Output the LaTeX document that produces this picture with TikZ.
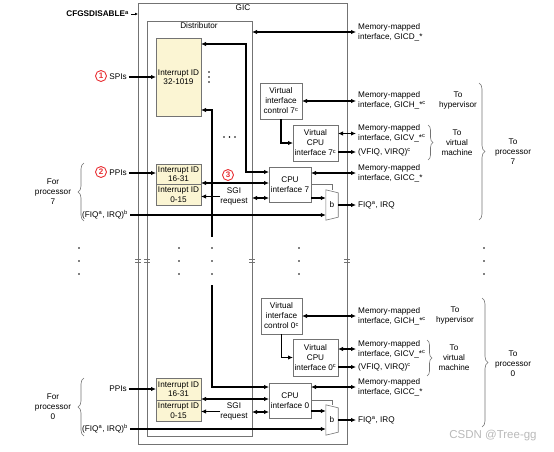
\documentclass[tikz,border=0pt]{standalone}
\usepackage{fontspec}
\setmainfont{Liberation Sans}
\usetikzlibrary{positioning, arrows.meta, calc, decorations.pathreplacing}
\definecolor{idyellow}{RGB}{251,245,211}
\definecolor{framegray}{RGB}{115,115,115}
\definecolor{numred}{RGB}{232,48,52}
\newcommand{\lblfont}{\fontsize{8.2}{10}\selectfont}

\begin{document}
\begin{tikzpicture}[x=1pt, y=-1pt,
		frame/.style={draw=framegray, line width=0.6pt, inner sep=0pt, outer sep=0pt},
		idbox/.style={draw=framegray, fill=idyellow, line width=0.6pt, minimum width=45pt, inner sep=0pt, outer sep=0pt, align=center, font=\fontsize{8.2}{9.5}\selectfont},
		ifbox/.style={draw=framegray, fill=white, line width=0.6pt, inner sep=0pt, outer sep=0pt, align=center, font=\lblfont},
		lbl/.style={inner sep=0pt, align=left, anchor=west, font=\lblfont},
		ctr/.style={inner sep=0pt, align=center, font=\lblfont},
		num/.style={circle, draw=numred, line width=0.9pt, text=numred, inner sep=0pt, minimum size=11pt, font=\fontsize{8}{8}\selectfont\bfseries},
		conn/.style={line width=1.2pt},
		brc/.style={draw=framegray, line width=0.6pt, decorate, decoration={brace, amplitude=5pt}},
		>={Latex[length=5pt,width=4.5pt]}
		]
		\useasboundingbox (0,0) rectangle (554,452);
		% GIC and distributor frames
		\node[frame, minimum width=209pt, minimum height=441pt] (gic) at (242.5,223.5) {};
		\node[frame, minimum width=105pt, minimum height=415pt] (dist) at (199.5,228.5) {};
		\node[ctr] (gicname) at (243,8) {GIC};
		\node[ctr] (distname) at (199,26) {Distributor};
		\node[ctr, font=\lblfont\bfseries, anchor=east] (cfg) at (129,14) {CFGSDISABLE\textsuperscript{a}};
		\draw[->, line width=0.6pt, >={Latex[length=3pt,width=3pt]}, shorten <=2pt] (cfg.east) -- (cfg.east -| gic.west);
		
		% interrupt ID blocks
		\node[idbox, minimum height=78pt] (spi) at (178.5,77) {Interrupt ID\\32-1019};
		\node[idbox, minimum height=20pt] (ppi7) at (178.5,174) {Interrupt ID\\16-31};
		\node[idbox, minimum height=21pt] (sgi7) at (178.5,194.5) {Interrupt ID\\0-15};
		\node[idbox, minimum height=22pt] (ppi0) at (178.5,389) {Interrupt ID\\16-31};
		\node[idbox, minimum height=21pt] (sgi0) at (178.5,410.5) {Interrupt ID\\0-15};
		
		% interfaces, processor 7
		\node[ifbox, minimum width=42pt, minimum height=36pt] (vic7) at (281,101) {Virtual\\interface\\control 7\textsuperscript{c}};
		\node[ifbox, minimum width=45pt, minimum height=36pt] (vcpu7) at (315.5,143) {Virtual\\CPU\\interface 7\textsuperscript{c}};
		\node[ifbox, minimum width=42pt, minimum height=35pt] (cpu7) at (290,184.5) {CPU\\interface 7};
		\node[inner sep=0pt, minimum width=12pt, minimum height=30pt, font=\lblfont] (mux7) at (332,205) {b};
		\draw[frame] (mux7.north west) -- ([yshift=-3pt]mux7.north east) -- ([yshift=3pt]mux7.south east) -- (mux7.south west) -- cycle;
		
		% interfaces, processor 0
		\node[ifbox, minimum width=41pt, minimum height=36pt] (vic0) at (281.5,316) {Virtual\\interface\\control 0\textsuperscript{c}};
		\node[ifbox, minimum width=45pt, minimum height=37pt] (vcpu0) at (315.5,357.5) {Virtual\\CPU\\interface 0\textsuperscript{c}};
		\node[ifbox, minimum width=42pt, minimum height=35pt] (cpu0) at (290,400.5) {CPU\\interface 0};
		\node[inner sep=0pt, minimum width=12pt, minimum height=30pt, font=\lblfont] (mux0) at (332,420) {b};
		\draw[frame] (mux0.north west) -- ([yshift=-3pt]mux0.north east) -- ([yshift=3pt]mux0.south east) -- (mux0.south west) -- cycle;
		
		% right hand labels
		\node[lbl] (gicd) at (358,32) {Memory-mapped\\interface, GICD\_*};
		\node[lbl] (gich7) at (358,100) {Memory-mapped\\interface, GICH\_*\textsuperscript{c}};
		\node[lbl] (gicv7) at (358,133.5) {Memory-mapped\\interface, GICV\_*\textsuperscript{c}};
		\node[lbl] (vfiq7) at (358,152) {(VFIQ, VIRQ)\textsuperscript{c}};
		\node[lbl] (gicc7) at (358,173) {Memory-mapped\\interface, GICC\_*};
		\node[lbl] (fiqout7) at (358,205) {FIQ\textsuperscript{a}, IRQ};
		\node[lbl] (gich0) at (358,316) {Memory-mapped\\interface, GICH\_*\textsuperscript{c}};
		\node[lbl] (gicv0) at (358,349) {Memory-mapped\\interface, GICV\_*\textsuperscript{c}};
		\node[lbl] (vfiq0) at (358,367) {(VFIQ, VIRQ)\textsuperscript{c}};
		\node[lbl] (gicc0) at (358,387) {Memory-mapped\\interface, GICC\_*};
		\node[lbl] (fiqout0) at (358,420) {FIQ\textsuperscript{a}, IRQ};
		
		\node[ctr] (hyp7) at (458,101) {To\\hypervisor};
		\node[ctr] (vm7) at (457,143) {To\\virtual\\machine};
		\node[ctr] (proc7) at (513,152) {To\\processor\\7};
		\node[ctr] (hyp0) at (455,316) {To\\hypervisor};
		\node[ctr] (vm0) at (454,358) {To\\virtual\\machine};
		\node[ctr] (proc0) at (513,364) {To\\processor\\0};
		\draw[brc] (428,125) -- (428,160);
		\draw[brc, decoration={amplitude=6pt}] (479,83) -- (479,220);
		\draw[brc] (427,340) -- (427,376);
		\draw[brc, decoration={amplitude=6pt}] (482,298) -- (482,427);
		
		% left hand labels
		\node[ctr] (spis) at (118,77) {SPIs};
		\node[num] (num1) at (101,76) {1};
		\node[ctr] (ppis7) at (118,173) {PPIs};
		\node[num] (num2) at (101,172) {2};
		\node[ctr] (fiq7) at (105,215) {(FIQ\textsuperscript{a}, IRQ)\textsuperscript{b}};
		\node[ctr] (for7) at (53,192) {For\\processor\\7};
		\draw[brc, decoration={amplitude=6pt}] (84,221) -- (84,163);
		\node[ctr] (ppis0) at (118,389) {PPIs};
		\node[ctr] (fiq0) at (105,429) {(FIQ\textsuperscript{a}, IRQ)\textsuperscript{b}};
		\node[ctr] (for0) at (53,407) {For\\processor\\0};
		\draw[brc, decoration={amplitude=6pt}] (84,436) -- (84,378);
		\node[num] (num3) at (228,175) {3};
		\node[ctr] (sgi7t) at (234,196.5) {SGI\\request};
		\node[ctr] (sgi0t) at (234,411.5) {SGI\\request};
		
		% connections, processor 7
		\draw[conn,<->, shorten >=2pt] (gicd.west -| dist.east) -- (gicd.west);
		\draw[conn,->, shorten <=2pt] (spis.east) -- (spi.west);
		\draw[conn,<->] ([yshift=-6pt]spi.north east) -- (246,44) |- ([yshift=-5pt]cpu7.north west);
		\draw[conn,<-] ([yshift=6pt]spi.south east) -- (212,110) -- (212,237);
		\draw[conn,<->, shorten >=2pt] (vic7.east) -- (vic7.east -| gich7.west);
		\draw[conn,->] (vic7.south) |- (vcpu7.west);
		\draw[conn,<->, shorten >=2pt] (gicv7.west -| vcpu7.east) -- (gicv7.west);
		\draw[conn,->, shorten >=2pt] (vfiq7.west -| vcpu7.east) -- (vfiq7.west);
		\draw[conn,<->, shorten >=2pt] (gicc7.west -| cpu7.east) -- (gicc7.west);
		\draw[conn,->, shorten <=2pt] (ppis7.east) -- (ppis7.east -| ppi7.west);
		\draw[conn,<->] ([yshift=1.5pt]cpu7.west) -- ([yshift=1.5pt]cpu7.west -| ppi7.east);
		\draw[conn,<->] ([yshift=-13.5pt]cpu7.west) -- ([yshift=-13.5pt]cpu7.west -| dist.east);
		\draw[conn,->] (sgi7t.west) -- (sgi7t.west -| sgi7.east);
		\draw[frame] (cpu7.east) -| (mux7.north);
		\draw[conn,->] ([yshift=7pt]mux7.west -| cpu7.east) -- ([yshift=7pt]mux7.west);
		\draw[conn,->, shorten <=2pt] (fiq7.east) -- (fiq7.east -| mux7.west);
		\draw[conn,->, shorten >=2pt] (mux7.east) -- (mux7.east -| fiqout7.west);
		
		% connections, processor 0
		\draw[conn,->] (212,285) |- ([yshift=-4pt]cpu0.north west);
		\draw[conn,<->, shorten >=2pt] (vic0.east) -- (vic0.east -| gich0.west);
		\draw[conn,->] (vic0.south) |- (vcpu0.west);
		\draw[conn,<->, shorten >=2pt] (gicv0.west -| vcpu0.east) -- (gicv0.west);
		\draw[conn,->, shorten >=2pt] (vfiq0.west -| vcpu0.east) -- (vfiq0.west);
		\draw[conn,<->, shorten >=2pt] (gicc0.west -| cpu0.east) -- (gicc0.west);
		\draw[conn,->, shorten <=2pt] (ppis0.east) -- (ppis0.east -| ppi0.west);
		\draw[conn,<->] ([yshift=1.5pt]cpu0.west) -- ([yshift=1.5pt]cpu0.west -| ppi0.east);
		\draw[conn,<->] ([yshift=-11.5pt]cpu0.west) -- ([yshift=-11.5pt]cpu0.west -| dist.east);
		\draw[conn,->] (sgi0t.west) -- (sgi0t.west -| sgi0.east);
		\draw[frame] (cpu0.east) -| (mux0.north);
		\draw[conn,->] ([yshift=9pt]mux0.west -| cpu0.east) -- ([yshift=9pt]mux0.west);
		\draw[conn,->, shorten <=2pt] (fiq0.east) -- (fiq0.east -| mux0.west);
		\draw[conn,->, shorten >=2pt] (mux0.east) -- (mux0.east -| fiqout0.west);
		
		% ellipses and breaks
		\foreach \y in {72,77,82} \fill (209,\y) circle (0.8);
		\foreach \x in {224,229.5,235} \fill (\x,137) circle (0.8);
		\foreach \x in {79,179,212,299,484}
		\foreach \y in {248,261,274} \fill (\x,\y) circle (0.9);
		\foreach \x in {138,147,252,347}
		\draw[frame] (\x-3,259.5) -- (\x+3,259.5) (\x-3,262.5) -- (\x+3,262.5);
		
		\node[text=gray!55, font=\fontsize{11.5}{11.5}\selectfont] (mark) at (493,436) {CSDN @Tree-gg};
\end{tikzpicture}
\end{document}
